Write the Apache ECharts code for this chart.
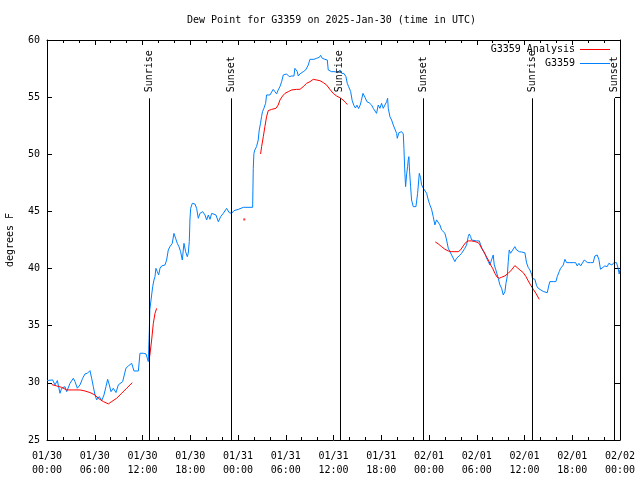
<!DOCTYPE html>
<html><head><meta charset="utf-8">
<script src="https://cdn.jsdelivr.net/npm/echarts/dist/echarts.min.js"></script>
<style>html,body{margin:0;padding:0;background:#fff}#c{width:640px;height:480px}</style>
</head><body><div id="c"></div><script>
// ---- data ----
const chartTitle = 'Dew Point for G3359 on 2025-Jan-30 (time in UTC)';
const yName = 'degrees F';
const tickLabels = ['01/30\n00:00','01/30\n06:00','01/30\n12:00','01/30\n18:00','01/31\n00:00','01/31\n06:00','01/31\n12:00','01/31\n18:00','02/01\n00:00','02/01\n06:00','02/01\n12:00','02/01\n18:00','02/02\n00:00'];
// hours since 01/30 00:00 UTC
const obsTimes = [0.0,0.17,0.71,1.0,1.30,1.63,1.84,2.26,2.47,2.89,3.31,3.52,3.81,4.15,4.48,4.77,5.07,5.40,5.61,5.82,6.03,6.24,6.57,6.87,7.16,7.41,7.62,7.83,8.04,8.33,8.67,8.96,9.17,9.51,9.71,9.92,10.22,10.64,10.93,11.48,11.68,12.10,12.44,12.73,12.80,12.86,12.92,13.02,13.15,13.28,13.44,13.57,13.69,13.86,14.03,14.20,14.40,14.82,15.03,15.24,15.45,15.74,15.95,16.16,16.37,16.58,16.79,17.0,17.21,17.42,17.63,17.75,17.88,17.96,18.05,18.26,18.59,18.80,19.01,19.22,19.56,19.85,20.06,20.27,20.48,20.69,20.90,21.23,21.53,21.82,22.15,22.57,22.90,23.20,23.49,24.04,24.67,25.84,25.92,26.0,26.12,26.33,26.54,26.67,26.83,26.96,27.08,27.25,27.47,27.59,27.80,28.01,28.22,28.43,28.64,28.85,29.05,29.27,29.48,29.69,29.90,30.11,30.44,30.74,31.03,31.15,31.28,31.45,31.57,31.78,31.99,32.20,32.50,32.83,33.04,33.54,33.88,34.21,34.38,34.59,34.92,35.22,35.34,35.76,36.18,36.48,36.81,37.02,37.31,37.56,37.73,37.90,38.15,38.35,38.55,38.75,38.95,39.15,39.35,39.50,39.70,39.95,40.20,40.49,40.79,41.0,41.21,41.41,41.62,41.83,42.04,42.25,42.46,42.67,42.80,42.88,43.09,43.30,43.51,43.72,43.93,44.01,44.22,44.56,44.77,44.85,44.97,45.06,45.18,45.31,45.39,45.47,45.56,45.69,45.81,46.02,46.36,46.57,46.78,46.94,47.07,47.28,47.49,47.70,47.91,48.12,48.32,48.53,48.74,48.95,49.16,49.37,49.58,49.79,50.0,50.21,50.42,50.63,50.84,51.05,51.25,51.46,51.80,52.10,52.30,52.51,52.72,52.93,53.06,53.23,53.35,53.56,53.98,54.32,54.49,54.73,54.94,55.11,55.24,55.45,55.65,55.86,56.07,56.20,56.40,56.57,56.70,56.91,57.12,57.33,57.54,57.67,57.83,57.96,58.08,58.25,58.50,58.79,59.0,59.34,59.63,60.05,60.26,60.47,60.68,60.89,61.0,61.31,61.52,61.73,61.94,62.35,62.56,62.86,63.07,63.19,63.61,63.95,64.11,64.36,64.53,64.74,64.87,65.08,65.29,65.71,66.13,66.42,66.63,66.84,67.05,67.26,67.51,67.72,67.93,68.30,68.63,68.84,69.13,69.34,69.55,69.80,70.09,70.39,70.60,70.81,70.98,71.23,71.56,71.77,71.90,71.98];
const obsValues = [30.2,30.26,30.26,29.82,30.2,29.09,29.53,29.67,29.23,29.96,30.4,30.11,29.53,29.82,30.4,30.78,30.84,31.07,30.4,29.67,28.94,28.51,28.8,28.45,28.94,29.67,30.31,29.82,29.23,29.53,29.15,29.82,29.96,30.11,30.69,31.28,31.48,31.71,31.04,31.04,32.59,32.59,32.53,31.86,31.86,34.6,36.4,36.38,37.69,38.42,39.0,39.3,40.02,39.73,39.44,40.02,40.23,40.31,40.75,41.63,41.92,42.21,43.08,42.65,42.21,41.92,41.48,40.75,42.21,41.48,41.04,41.33,42.35,44.25,45.27,45.71,45.65,45.27,44.4,44.83,44.98,44.69,44.25,44.69,44.31,44.83,44.98,44.69,44.1,44.54,44.83,45.27,44.89,44.83,45.07,45.18,45.36,45.36,48.77,50.08,50.38,50.67,51.25,52.13,52.71,53.29,53.73,54.02,54.46,55.19,55.33,55.19,55.28,55.68,55.48,55.28,55.63,55.92,56.35,56.94,57.08,57.03,56.79,56.85,56.85,57.52,57.67,57.23,56.85,57.03,57.08,57.23,57.38,57.81,58.31,58.31,58.4,58.48,58.66,58.4,58.31,58.25,57.38,57.23,57.23,57.14,57.38,57.08,57.08,56.79,56.21,55.92,55.5,54.7,54.3,54.05,54.3,54.0,54.3,54.7,55.33,55.0,54.6,54.5,54.31,54.02,53.88,53.58,54.31,54.02,54.46,54.02,54.17,54.6,54.9,54.02,53.29,53.0,52.56,52.42,51.83,51.4,51.89,51.98,51.78,50.52,48.33,47.17,48.19,48.92,49.5,49.79,48.48,47.17,46.0,45.42,45.42,46.58,48.33,47.95,47.32,47.03,47.17,46.59,46.0,45.55,45.2,44.55,43.82,44.26,44.11,43.82,43.38,43.23,43.09,42.5,41.78,41.48,41.19,41.34,40.61,40.9,41.11,41.34,41.48,41.78,42.07,42.8,43.03,42.8,42.5,42.42,42.42,42.42,42.07,41.63,41.63,41.19,40.9,40.61,40.32,40.76,41.19,40.32,39.88,39.74,39.15,38.57,38.28,37.69,37.99,38.71,39.3,40.61,41.63,41.34,41.19,41.92,41.63,41.48,41.45,41.38,40.5,40.1,39.88,39.5,39.15,39.05,38.5,38.27,38.13,38.0,37.89,37.89,38.56,38.86,38.86,38.86,39.29,39.73,40.02,39.88,40.31,40.81,40.52,40.52,40.52,40.52,40.23,40.46,40.23,40.31,40.75,40.81,40.52,40.52,40.52,41.1,41.19,40.81,39.94,39.88,40.23,40.17,40.46,40.52,40.31,40.52,40.52,40.02,39.53,39.88];
const anaTimes = [0.6,1.21,1.84,2.47,3.31,4.15,4.77,5.40,6.03,6.45,7.08,7.71,8.12,8.75,9.38,10.01,10.72,11.8,12.9,13.15,13.36,13.57,13.78,20.0,26.84,26.97,27.18,27.38,27.59,27.80,28.22,28.77,29.05,29.27,29.60,29.90,30.32,30.74,31.36,31.78,32.20,32.62,33.04,33.46,33.88,34.30,34.72,35.14,35.55,35.97,36.39,36.81,37.2,37.5,37.73,43.0,48.79,49.16,49.58,50.0,50.42,50.84,51.25,51.67,51.97,52.30,52.60,52.93,53.35,53.77,54.19,54.40,54.61,54.90,55.15,55.45,55.74,55.99,56.28,56.57,56.83,57.12,57.54,57.96,58.37,58.79,59.09,59.42,59.84,60.18,60.47,60.76,61.10,61.43,61.85];
const anaValues = [29.85,29.73,29.61,29.38,29.38,29.38,29.29,29.15,28.94,28.65,28.36,28.16,28.36,28.65,29.09,29.53,30.02,null,32.3,33.75,35.21,36.08,36.52,null,50.03,50.67,51.54,52.42,53.29,53.82,53.93,54.02,54.31,54.75,55.1,55.33,55.48,55.63,55.68,55.68,55.92,56.21,56.35,56.56,56.5,56.44,56.27,56.06,55.68,55.33,55.1,54.95,54.75,54.55,54.35,null,42.33,42.16,41.92,41.69,41.54,41.48,41.48,41.48,41.63,41.98,42.27,42.42,42.42,42.36,42.27,42.07,41.78,41.48,41.11,40.76,40.32,40.03,39.59,39.24,39.15,39.24,39.36,39.59,39.88,40.26,40.08,39.88,39.65,39.3,38.92,38.57,38.19,37.84,37.31];
const anaDotTimes = [24.79];
const anaDotValues = [44.3];
const sunNames = ['Sunrise','Sunset','Sunrise','Sunset','Sunrise','Sunset'];
const sunTimes = [12.85,23.15,36.8,47.27,60.97,71.27];

// ---- chart ----
const FONT = 'DejaVu Sans Mono';
const zip = (t, v) => t.map((x, i) => [x, v[i]]);
const lineTop = 54.9;
const marks = [];
sunTimes.forEach((t, i) => {
  marks.push([{coord: [t, 25]}, {coord: [t, lineTop]}]);
  marks.push([{name: sunNames[i], coord: [t, lineTop],
    lineStyle: {color: 'rgba(0,0,0,0)', width: 1},
    label: {show: true, opacity: 1, color: '#000'}}, {coord: [t, 60]}]);
});
const axisCommon = {
  axisLine: {show: true, onZero: false, lineStyle: {color: '#000', width: 1}},
  axisTick: {show: true, inside: true, length: 5, lineStyle: {color: '#000'}},
  splitLine: {show: false}
};
const xCommon = Object.assign({}, axisCommon, {
  type: 'value', min: 0, max: 72, interval: 6,
  minorTick: {show: true, splitNumber: 3, length: 3, lineStyle: {color: '#000'}}
});
const yCommon = Object.assign({}, axisCommon, {type: 'value', min: 25, max: 60, interval: 5});
const chart = echarts.init(document.getElementById('c'));
chart.setOption({
  animation: false,
  backgroundColor: '#fff',
  title: {text: chartTitle, left: 187, top: 15, padding: 0,
    textStyle: {fontFamily: FONT, fontSize: 10, fontWeight: 'normal', color: '#000'}},
  legend: {orient: 'vertical', right: 30, top: 44, padding: 0, align: 'right', icon: 'rect',
    itemWidth: 30, itemHeight: 1, itemGap: 3,
    data: ['G3359 Analysis', 'G3359'],
    textStyle: {fontFamily: FONT, fontSize: 10, color: '#000', lineHeight: 11}},
  grid: {left: 47, right: 20, top: 40, bottom: 40, containLabel: false, outerBoundsMode: 'none'},
  xAxis: [
    Object.assign({}, xCommon, {position: 'bottom',
      axisLabel: {formatter: v => tickLabels[Math.round(v / 6)], fontFamily: FONT, fontSize: 10, color: '#000', lineHeight: 14, margin: 9}}),
    Object.assign({}, xCommon, {position: 'top', axisLabel: {show: false}})
  ],
  yAxis: [
    Object.assign({}, yCommon, {position: 'left', name: yName, nameLocation: 'middle', nameGap: 32,
      nameTextStyle: {fontFamily: FONT, fontSize: 10, color: '#000'},
      axisLabel: {fontFamily: FONT, fontSize: 10, color: '#000', margin: 7}}),
    Object.assign({}, yCommon, {position: 'right', axisLabel: {show: false}})
  ],
  series: [
    {name: 'G3359', type: 'line', data: zip(obsTimes, obsValues), symbol: 'none',
      lineStyle: {color: '#0080ff', width: 1}, itemStyle: {color: '#0080ff'},
      markLine: {silent: true, symbol: ['none', 'none'], animation: false,
        lineStyle: {color: '#000', width: 1, type: 'solid'},
        label: {show: false, position: 'insideStart', distance: [6, 0], formatter: '{b}',
          fontFamily: FONT, fontSize: 10, color: '#000'},
        emphasis: {disabled: true},
        data: marks}},
    {name: 'G3359 Analysis', type: 'line', data: zip(anaTimes, anaValues), symbol: 'none',
      connectNulls: false, lineStyle: {color: '#ff0000', width: 1}, itemStyle: {color: '#ff0000'}},
    {name: 'G3359 Analysis', type: 'scatter', data: zip(anaDotTimes, anaDotValues), symbol: 'rect',
      symbolSize: 2, itemStyle: {color: '#ff0000'}}
  ]
});
</script></body></html>
